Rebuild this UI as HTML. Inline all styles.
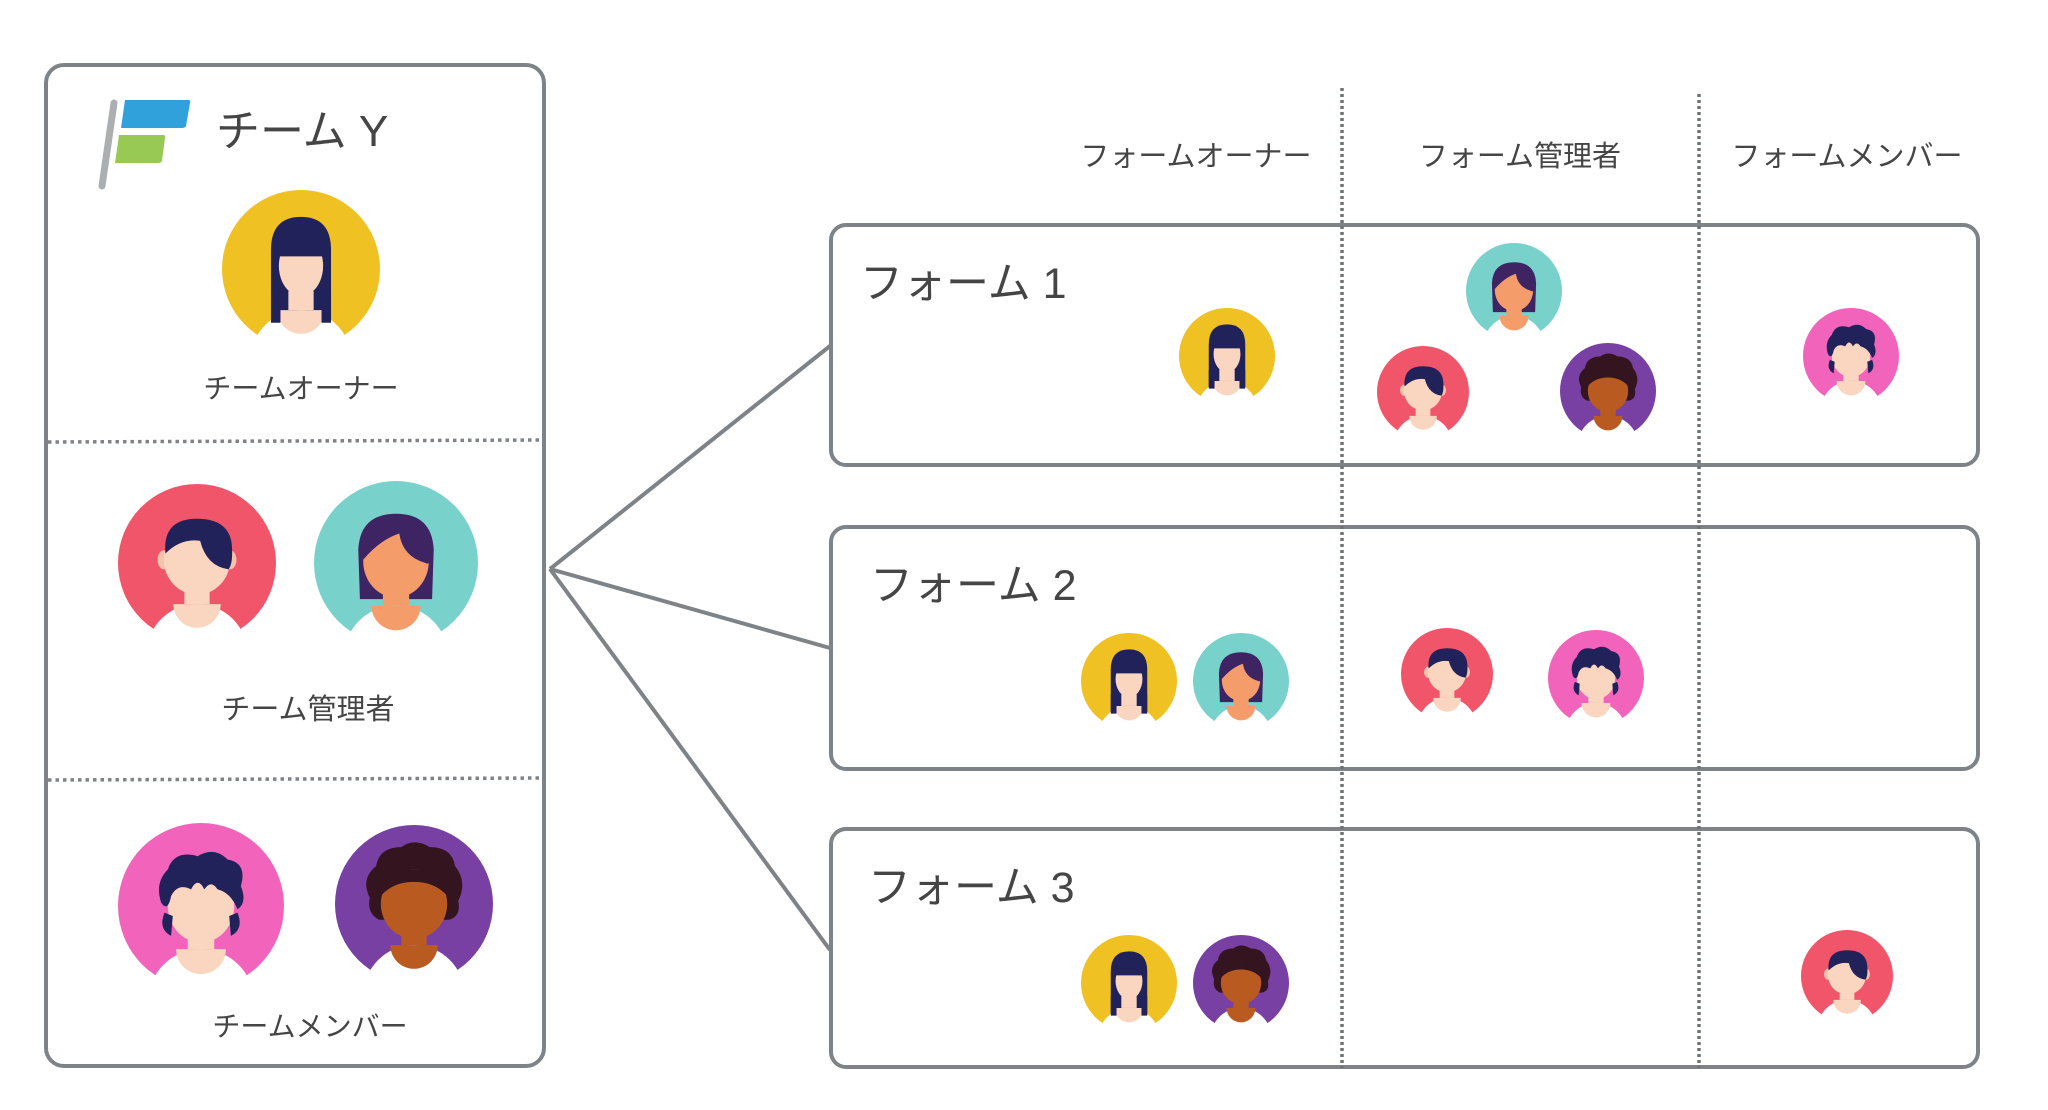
<!DOCTYPE html>
<html><head><meta charset="utf-8">
<style>
html,body{margin:0;padding:0;background:#fff;}
body{width:2048px;height:1110px;position:relative;overflow:hidden;font-family:"Liberation Sans","Noto Sans CJK JP",sans-serif;color:#454545;}
svg{position:absolute;left:0;top:0;}
</style></head><body>
<svg width="2048" height="1110" viewBox="0 0 2048 1110" xmlns="http://www.w3.org/2000/svg">
<defs>
  <clipPath id="bc"><rect x="-60" y="-60" width="120" height="114"/></clipPath>
  <g id="body">
    <ellipse cx="0" cy="58" rx="32" ry="32" fill="#fff" clip-path="url(#bc)"/>
  </g>
  <symbol id="av-y" viewBox="-50 -50 100 100" overflow="visible">
    <circle r="50" fill="#efc123"/>
    <path d="M-19,34 L-19,-12 Q-19,-33 0,-33 Q19,-33 19,-12 L19,34 Z" fill="#22225a"/>
    <use href="#body"/>
    <rect x="-8" y="14" width="16" height="12" fill="#fad5c0"/>
    <path d="M-15,26 A15,15 0 0 0 15,26 Z" fill="#fad5c0"/>
    <path d="M-19,34 L-19,14 L-13,14 L-13,34 Z M19,34 L19,14 L13,14 L13,34Z" fill="#22225a"/>
    <ellipse cx="0" cy="-2" rx="14" ry="19" fill="#fad5c0"/>
    <path d="M-15,-8 L-15,-18 Q-15,-30 0,-30 Q15,-30 15,-18 L15,-8 Z" fill="#22225a"/>
  </symbol>
  <symbol id="av-r" viewBox="-50 -50 100 100" overflow="visible">
    <circle r="50" fill="#f1556a"/>
    <use href="#body"/>
    <rect x="-8" y="12" width="16" height="14" fill="#fad5c0"/>
    <path d="M-15,26 A15,15 0 0 0 15,26 Z" fill="#fad5c0"/>
    <ellipse cx="-21" cy="-2" rx="4" ry="6" fill="#f5c2aa"/>
    <ellipse cx="21" cy="-2" rx="4" ry="6" fill="#f5c2aa"/>
    <ellipse cx="0" cy="-2" rx="21" ry="22" fill="#fad5c0"/>
    <path d="M-20,-6 Q-22,-28 0,-28 Q20,-28 22,-12 Q23,0 20,4 Q6,2 2,-14 Q-10,-16 -20,-6 Z" fill="#22225a"/>
  </symbol>
  <symbol id="av-t" viewBox="-50 -50 100 100" overflow="visible">
    <circle r="50" fill="#79d1cc"/>
    <path d="M-22,22 L-23,-8 Q-22,-30 0,-30 Q22,-30 23,-8 L22,22 Z" fill="#3f2463"/>
    <use href="#body"/>
    <rect x="-8" y="12" width="16" height="14" fill="#f59c6b"/>
    <path d="M-15,26 A15,15 0 0 0 15,26 Z" fill="#f59c6b"/>
    <ellipse cx="0" cy="-1" rx="20" ry="22" fill="#f59c6b"/>
    <path d="M-20,-2 Q-20,-26 0,-26 Q21,-26 21,-6 Q21,2 18,0 Q4,-4 2,-18 Q-10,-14 -20,-2 Z" fill="#3f2463"/>
  </symbol>
  <symbol id="av-p" viewBox="-50 -50 100 100" overflow="visible">
    <circle r="50" fill="#f264bc"/>
    <use href="#body"/>
    <rect x="-8" y="12" width="16" height="14" fill="#fad5c0"/>
    <path d="M-15,26 A15,15 0 0 0 15,26 Z" fill="#fad5c0"/>
    <ellipse cx="0" cy="0" rx="20" ry="22" fill="#fad5c0"/>
    <path d="M-24,-2 Q-28,-14 -20,-22 Q-16,-34 -2,-30 Q8,-36 16,-28 Q28,-26 24,-12 Q28,-2 22,2 Q18,-8 10,-10 Q6,-16 2,-10 Q-2,-18 -6,-10 Q-14,-14 -18,-6 Q-20,4 -24,-2 Z" fill="#22225a"/>
    <path d="M-22,4 Q-26,14 -18,18 L-17,6Z M22,4 Q26,14 18,18 L17,6Z" fill="#22225a"/>
  </symbol>
  <symbol id="av-u" viewBox="-50 -50 100 100" overflow="visible">
    <circle r="50" fill="#7740a2"/>
    <path d="M-28,-4 Q-34,-16 -24,-24 Q-22,-36 -8,-36 Q0,-42 10,-36 Q24,-36 26,-24 Q34,-14 28,-2 Q30,8 22,10 L-22,10 Q-30,6 -28,-4 Z" fill="#33141f"/>
    <use href="#body"/>
    <rect x="-8" y="12" width="16" height="14" fill="#b95b21"/>
    <path d="M-15,26 A15,15 0 0 0 15,26 Z" fill="#b95b21"/>
    <ellipse cx="0" cy="0" rx="21" ry="22" fill="#b95b21"/>
    <path d="M-22,-4 Q-20,-22 0,-22 Q20,-22 22,-4 Q14,-14 0,-14 Q-14,-14 -22,-4 Z" fill="#33141f"/>
  </symbol>
</defs>

<!-- left avatars (drawn first so borders stay on top) -->
<use href="#av-y" x="222" y="190" width="158" height="158"/>
<use href="#av-r" x="118" y="484" width="158" height="158"/>
<use href="#av-t" x="314" y="481" width="164" height="164"/>
<use href="#av-p" x="118" y="823" width="166" height="166"/>
<use href="#av-u" x="335" y="825" width="158" height="158"/>

<!-- form avatars -->
<use href="#av-y" x="1179" y="308" width="96" height="96"/>
<use href="#av-t" x="1466" y="243" width="96" height="96"/>
<use href="#av-r" x="1377" y="346" width="92" height="92"/>
<use href="#av-u" x="1560" y="343" width="96" height="96"/>
<use href="#av-p" x="1803" y="308" width="96" height="96"/>
<use href="#av-y" x="1081" y="633" width="96" height="96"/>
<use href="#av-t" x="1193" y="633" width="96" height="96"/>
<use href="#av-r" x="1401" y="628" width="92" height="92"/>
<use href="#av-p" x="1548" y="630" width="96" height="96"/>
<use href="#av-y" x="1081" y="935" width="96" height="96"/>
<use href="#av-u" x="1193" y="935" width="96" height="96"/>
<use href="#av-r" x="1801" y="930" width="92" height="92"/>

<!-- left panel -->
<rect x="46" y="65" width="498" height="1001" rx="18" fill="none" stroke="#7e8387" stroke-width="4"/>
<line x1="48" y1="442" x2="542" y2="440" stroke="#7e8387" stroke-width="3.5" stroke-dasharray="3.5,4"/>
<line x1="48" y1="780" x2="542" y2="778" stroke="#7e8387" stroke-width="3.5" stroke-dasharray="3.5,4"/>

<!-- logo -->
<line x1="114" y1="103" x2="102" y2="186" stroke="#abafb2" stroke-width="7" stroke-linecap="round"/>
<path d="M125,100 L188,100 Q191,100 190,103 L186,126 Q185,128 182,128 L121,128 Z" fill="#31a1dc"/>
<path d="M119,135 L163,135 Q166,135 165,138 L162,161 Q161,163 158,163 L115,163 Z" fill="#98c954"/>
<text x="216" y="146" font-size="44" fill="#454545">チーム Y</text>

<text x="301" y="398" font-size="28" text-anchor="middle" fill="#454545">チームオーナー</text>
<text x="308" y="719" font-size="29" text-anchor="middle" fill="#454545">チーム管理者</text>
<text x="310" y="1036" font-size="28" text-anchor="middle" fill="#454545">チームメンバー</text>

<!-- connectors -->
<g stroke="#7e8387" stroke-width="4" fill="none">
<line x1="550" y1="569" x2="830" y2="346"/>
<line x1="550" y1="569" x2="830" y2="648"/>
<line x1="550" y1="569" x2="830" y2="950"/>
</g>

<!-- form boxes -->
<g fill="none" stroke="#7e8387" stroke-width="4">
<rect x="831" y="225" width="1147" height="240" rx="15"/>
<rect x="831" y="527" width="1147" height="242" rx="15"/>
<rect x="831" y="829" width="1147" height="238" rx="15"/>
</g>
<line x1="1342" y1="88" x2="1342" y2="1068" stroke="#6e7377" stroke-width="3.5" stroke-dasharray="3,3"/>
<line x1="1699" y1="94" x2="1699" y2="1068" stroke="#6e7377" stroke-width="3.5" stroke-dasharray="3,3"/>

<g font-size="29" text-anchor="middle" fill="#454545">
<text x="1196" y="166">フォームオーナー</text>
<text x="1520" y="166">フォーム管理者</text>
<text x="1847" y="166">フォームメンバー</text>
</g>
<g font-size="43" fill="#454545">
<text x="860" y="298">フォーム 1</text>
<text x="870" y="600">フォーム 2</text>
<text x="868" y="902">フォーム 3</text>
</g>
</svg>
</body></html>
